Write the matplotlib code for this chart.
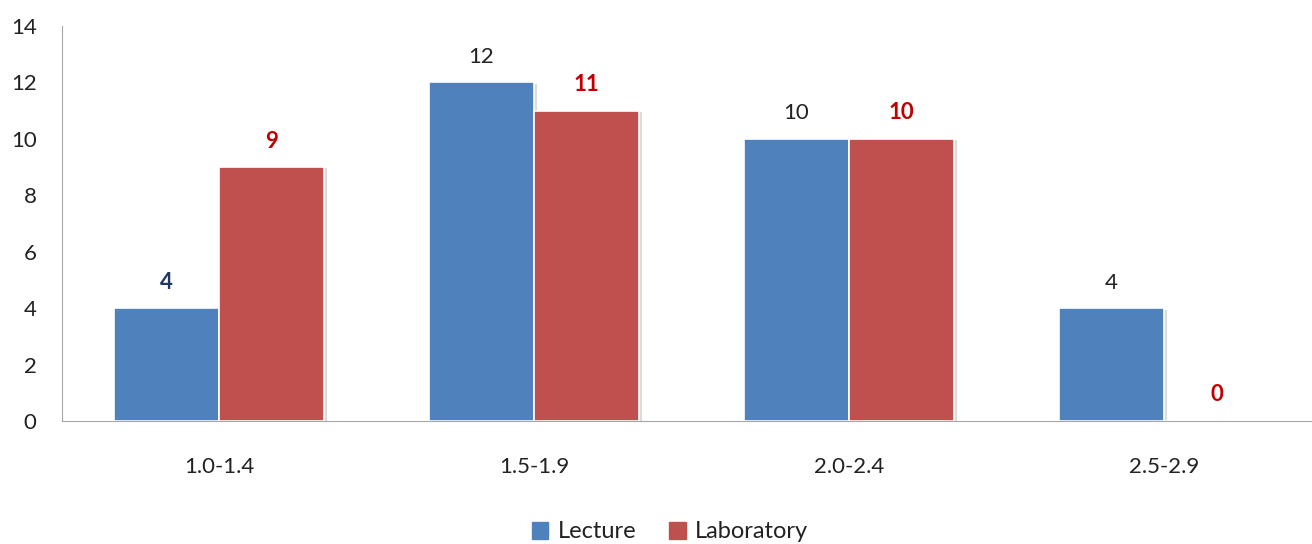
import numpy as np
import matplotlib
matplotlib.use('Agg')
import matplotlib.pyplot as plt
import matplotlib.patheffects as pe
from matplotlib.patches import Patch

plt.rcParams['font.family'] = ['Lato', 'DejaVu Sans']

categories = ['1.0-1.4', '1.5-1.9', '2.0-2.4', '2.5-2.9']
lecture = [4, 12, 10, 4]
laboratory = [9, 11, 10, 0]

# value label looks (as in the original workbook)
lecture_label_bold = [True, False, False, False]

blue = '#4f81bd'
red = '#c0504d'

fig = plt.figure(figsize=(13.12, 5.44), dpi=100)
ax = fig.add_axes([61.5 / 1312, 123 / 544, (1312 - 61.5) / 1312, 395 / 544])

x = np.arange(len(categories))
w = 0.333
shadow = [pe.SimplePatchShadow(offset=(2, -1), shadow_rgbFace='#999999', alpha=0.35), pe.Normal()]

ax.bar(x - w / 2, lecture, w, color=blue, edgecolor='white', linewidth=1.2,
       label='Lecture', path_effects=shadow)
ax.bar(x + w / 2, laboratory, w, color=red, edgecolor='white', linewidth=1.2,
       label='Laboratory', path_effects=shadow)

for xi, v, bold in zip(x, lecture, lecture_label_bold):
    if bold:
        ax.text(xi - w / 2, v + 0.55, str(v), ha='center', va='bottom', fontsize=16,
                fontweight='bold', color='#1f3864')
    else:
        ax.text(xi - w / 2, v + 0.55, str(v), ha='center', va='bottom', fontsize=16,
                color='#222222')

for xi, v in zip(x, laboratory):
    ax.text(xi + w / 2, v + 0.55, str(v), ha='center', va='bottom', fontsize=16,
            fontweight='bold', color='#c00000')

ax.set_xlim(-0.5, 3.47)
ax.set_ylim(0, 14)
ax.set_yticks(range(0, 15, 2))
ax.set_xticks(x, categories)
ax.tick_params(axis='y', length=0, pad=18, labelsize=16, labelcolor='#222222')
ax.tick_params(axis='x', length=0, pad=26, labelsize=16, labelcolor='#222222')

for s in ['top', 'right']:
    ax.spines[s].set_visible(False)
ax.spines['left'].set_color('#a6a6a6')
ax.spines['bottom'].set_color('#a6a6a6')

handles = [Patch(color=blue, label='Lecture'), Patch(color=red, label='Laboratory')]
fig.legend(handles=handles, loc='center', bbox_to_anchor=(670 / 1312, 12 / 544), ncol=2,
           frameon=False, fontsize=17, handlelength=0.7, handleheight=0.7,
           handletextpad=0.4, columnspacing=1.4, labelcolor='#222222')

fig.savefig('out.png', dpi=100)
